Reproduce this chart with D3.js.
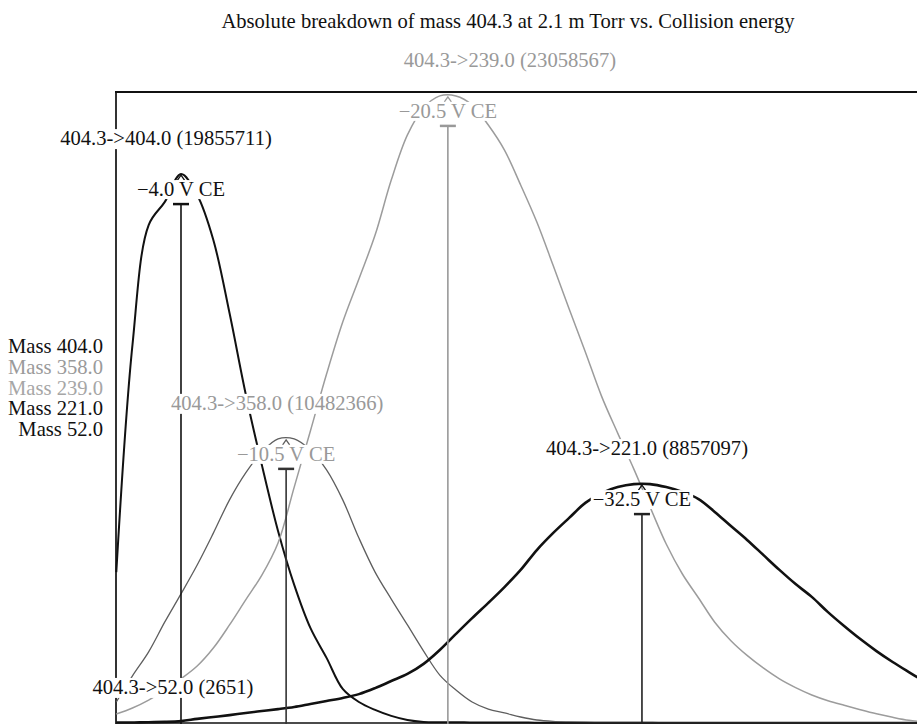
<!DOCTYPE html>
<html>
<head>
<meta charset="utf-8">
<script src="https://cdn.jsdelivr.net/npm/d3@7/dist/d3.min.js"></script>
<style>
  body { margin: 0; background: #fff; }
  svg { display: block; }
  text { font-family: "Liberation Serif", "DejaVu Serif", serif; }
</style>
</head>
<body>
<svg id="chart"></svg>
<script>
// collision energy (V), one point per volt
const ce = [0,-1,-2,-3,-4,-5,-6,-7,-8,-9,-10,-11,-12,-13,-14,-15,-16,-17,-18,-19,-20,
  -21,-22,-23,-24,-25,-26,-27,-28,-29,-30,-31,-32,-33,-34,-35,-36,-37,-38,-39,-40,
  -41,-42,-43,-44,-45,-46,-47,-48,-49,-50];

// product masses and their peak info (from the labels)
const masses = [404.0, 358.0, 239.0, 221.0, 52.0];
const peakCE = [-4.0, -10.5, -20.5, -32.5, -3.5];
const peakCounts = [19855711, 10482366, 23058567, 8857097, 2651];

// intensities, millions of counts
const mass404 = [5.54,13.88,18.28,19.13,20.15,19.38,17.73,15.05,12.08,9.47,7.05,
  5.07,3.49,2.39,1.25,0.77,0.48,0.26,0.11,0.04,0.03,0.03,0.02,0.02,0.02,0.02,0.01,0.01,
  0.01,0.01,0.01,0.01,0.01,0.01,0.01,0.01,0.01,0.01,0.01,0.01,0.01,0.01,0.01,0.01,0.01,
  0.01,0.01,0.01,0.01,0.01,0.01];
const mass358 = [0.77,1.73,2.61,3.71,4.74,5.80,6.97,8.19,9.18,9.95,10.43,
  10.43,10.02,9.29,8.19,6.79,5.54,4.55,3.60,2.64,1.76,1.21,0.77,0.51,0.37,0.22,0.11,0.06,
  0.04,0.03,0.02,0.02,0.02,0.02,0.01,0.01,0.01,0.01,0.01,0.01,0.01,0.01,0.01,0.01,0.01,
  0.01,0.01,0.01,0.01,0.01,0.01];
const mass239 = [0.33,0.55,0.84,1.21,1.62,2.09,2.75,3.60,4.52,5.43,6.61,
  8.66,10.72,12.81,14.72,16.30,17.91,19.93,21.59,22.58,23.02,23.02,22.69,21.95,21.03,19.75,
  18.39,16.81,15.20,13.62,12.00,10.64,9.32,7.93,6.57,5.47,4.59,3.70,3.02,2.48,2.02,
  1.62,1.30,1.03,0.82,0.65,0.49,0.34,0.21,0.10,0.04];
const mass221 = [0.02,0.02,0.03,0.04,0.07,0.15,0.22,0.29,0.37,0.44,0.51,
  0.59,0.70,0.81,0.92,1.06,1.28,1.54,1.80,2.17,2.68,3.27,3.85,4.41,4.99,5.62,
  6.35,6.97,7.53,8.08,8.44,8.66,8.77,8.77,8.66,8.48,8.22,7.75,7.23,6.72,6.17,
  5.62,5.10,4.63,4.07,3.56,3.08,2.64,2.24,1.87,1.51];
const mass52 = [0.0012,0.0019,0.0024,0.00262,0.00262,0.0024,0.0021,0.0017,0.0013,0.0010,0.0008,
  0.0006,0.0005,0.0004,0.0003,0.0003,0.0002,0.0002,0.0002,0.0001,0.0001,0.0001,0.0001,0.0001,0.0001,0.0001,
  0.0001,0.0001,0.0001,0.0001,0.0001,0.0001,0.0001,0.0001,0.0001,0.0001,0.0001,0.0001,0.0001,0.0001,0.0001,
  0.0001,0.0001,0.0001,0.0001,0.0001,0.0001,0.0001,0.0001,0.0001,0.0001];

const seriesValues = [mass404, mass358, mass239, mass221, mass52];

const width = 917, height = 724;
const lineColor = ['#111', '#5e5e5e', '#9c9c9c', '#111', '#111'];
const lineWidth = [2, 1.3, 1.5, 2.6, 1.5];
const textColor = ['#111', '#999', '#999', '#111', '#111'];
const stemColor = ['#111', '#333', '#999', '#222', '#111'];
const nameDx = [-15, -9, 62, 5, 0];
const fontSize = '20.6px';

const svg = d3.select('#chart').attr('width', width).attr('height', height);

const x = d3.scaleLinear().domain([0, -50]).range([116.3, 925]);
const y = d3.scaleLinear().domain([0, 23.2]).range([723, 91]);

// title
svg.append('text')
  .attr('x', 508).attr('y', 28)
  .attr('text-anchor', 'middle')
  .style('font-size', fontSize)
  .attr('fill', '#111')
  .text('Absolute breakdown of mass 404.3 at 2.1 m Torr vs. Collision energy');

// frame (left + top; the right and bottom are off the picture)
svg.append('line').attr('x1', 116).attr('x2', 116).attr('y1', 91).attr('y2', height)
  .attr('stroke', '#333').attr('stroke-width', 2);
svg.append('line').attr('x1', 115).attr('x2', width).attr('y1', 92).attr('y2', 92)
  .attr('stroke', '#111').attr('stroke-width', 2);

const line = d3.line()
  .x(d => x(d[0]))
  .y(d => y(d[1]))
  .curve(d3.curveCatmullRom.alpha(0.5));

const series = masses.map((m, i) => ({
  mass: m,
  i: i,
  points: ce.map((c, j) => [c, seriesValues[i][j]]),
  peak: peakCE[i],
  counts: peakCounts[i],
  top: d3.max(seriesValues[i])
}));

// curves
svg.append('g').selectAll('path')
  .data(series)
  .join('path')
  .attr('d', d => line(d.points))
  .attr('fill', 'none')
  .attr('stroke', d => lineColor[d.i])
  .attr('stroke-width', d => lineWidth[d.i])
  .attr('stroke-linejoin', 'round');

// peak stems
const marks = svg.append('g');
series.forEach(d => {
  const px = x(d.peak), py = y(d.top);
  if (py + 30 > height) return;
  marks.append('line')
    .attr('x1', px).attr('x2', px).attr('y1', py + 30).attr('y2', height + 5)
    .attr('stroke', stemColor[d.i]).attr('stroke-width', 1.6);
  marks.append('line')
    .attr('x1', px - 8).attr('x2', px + 8).attr('y1', py + 30).attr('y2', py + 30)
    .attr('stroke', stemColor[d.i]).attr('stroke-width', 2.5);
  marks.append('path')
    .attr('d', `M${px - 3.5},${py + 6}L${px},${py + 1}L${px + 3.5},${py + 6}`)
    .attr('fill', 'none')
    .attr('stroke', lineColor[d.i]).attr('stroke-width', 1.3);
});

// labels with white background
function boxedText(g, tx, ty, str, color) {
  const bg = g.append('rect').attr('fill', '#fff');
  const t = g.append('text')
    .attr('x', tx).attr('y', ty)
    .attr('text-anchor', 'middle')
    .style('font-size', fontSize)
    .attr('fill', color)
    .text(str);
  const b = t.node().getBBox();
  bg.attr('x', b.x - 2).attr('y', b.y + 2).attr('width', b.width + 4).attr('height', b.height - 3);
}

const fmt = d3.format('.1f');
const labels = svg.append('g');
series.forEach(d => {
  const px = x(d.peak), py = y(d.top);
  // the CE label of a peak sitting on the baseline falls below the picture
  if (py + 22 < height - 4) {
    boxedText(labels, px, py + 22, `${fmt(d.peak)} V CE`, textColor[d.i]);
  }
  boxedText(labels, px + nameDx[d.i], Math.min(py - 29, height - 25),
    `404.3->${d.mass.toFixed(1)} (${d.counts})`, textColor[d.i]);
});

// legend
const legendColor = ['#111', '#9a9a9a', '#a6a6a6', '#111', '#111'];
svg.append('g').selectAll('text')
  .data(masses)
  .join('text')
  .attr('x', 103)
  .attr('y', (d, i) => 353 + i * 20.8)
  .attr('text-anchor', 'end')
  .style('font-size', fontSize)
  .attr('fill', (d, i) => legendColor[i])
  .text(d => `Mass ${d.toFixed(1)}`);
</script>
</body>
</html>
